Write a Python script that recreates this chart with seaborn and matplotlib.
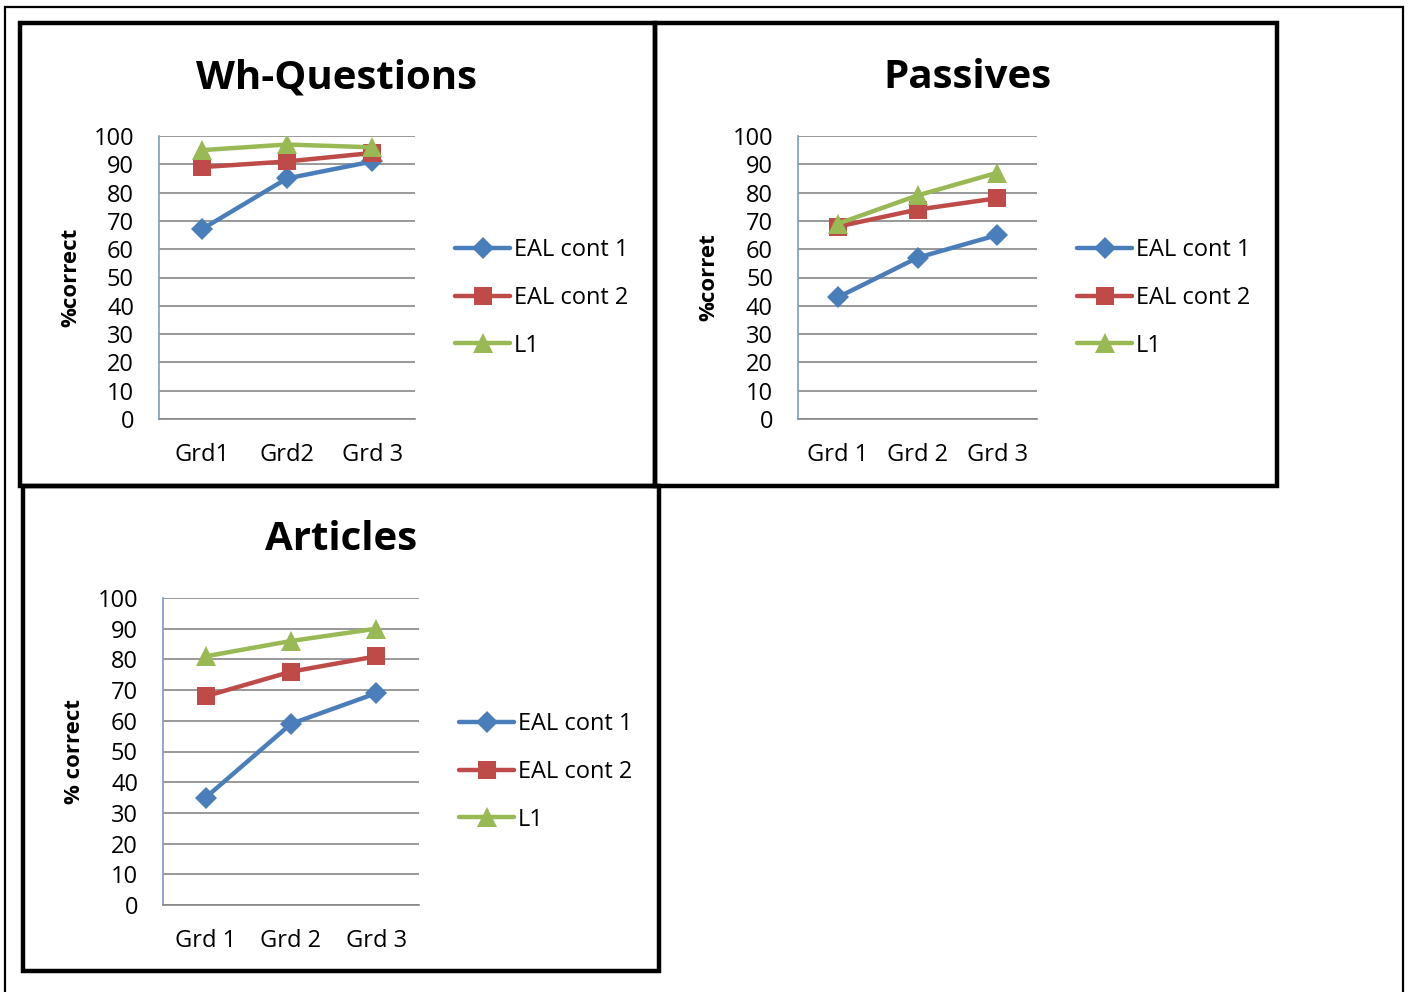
import matplotlib
matplotlib.use("Agg")
import matplotlib.pyplot as plt
from matplotlib.patches import Rectangle
import pandas as pd
import seaborn as sns

# ---- data ----
series = ["EAL cont 1", "EAL cont 2", "L1"]

wh_grades = ["Grd1", "Grd2", "Grd 3"]
wh_eal1 = [67, 85, 91]
wh_eal2 = [89, 91, 94]
wh_l1 = [95, 97, 96]

pas_grades = ["Grd 1", "Grd 2", "Grd 3"]
pas_eal1 = [43, 57, 65]
pas_eal2 = [68, 74, 78]
pas_l1 = [69, 79, 87]

art_grades = ["Grd 1", "Grd 2", "Grd 3"]
art_eal1 = [35, 59, 69]
art_eal2 = [68, 76, 81]
art_l1 = [81, 86, 90]

y_ticks = list(range(0, 101, 10))

# ---- style ----
sns.set_theme(style="white")
FONT = ["Open Sans", "DejaVu Sans"]
plt.rcParams["font.family"] = FONT
plt.rcParams["text.color"] = "black"
plt.rcParams["axes.labelcolor"] = "black"

palette = {"EAL cont 1": "#4A7EBB", "EAL cont 2": "#BE4B48", "L1": "#98B954"}
markers = {"EAL cont 1": "D", "EAL cont 2": "s", "L1": "^"}
msize = {"EAL cont 1": 11.5, "EAL cont 2": 13, "L1": 14.5}

TICK_FS = 17
W, H = 1408, 992
fig = plt.figure(figsize=(W / 100, H / 100), dpi=100)


def px_rect(x0, y0, x1, y1):
    """Figure-fraction rect from a pixel box (origin top-left)."""
    return [x0 / W, 1 - y1 / H, (x1 - x0) / W, (y1 - y0) / H]


def frame(x0, y0, x1, y1, lw):
    fig.patches.append(Rectangle((x0 / W, 1 - y1 / H), (x1 - x0) / W, (y1 - y0) / H,
                                 transform=fig.transFigure, fill=False,
                                 edgecolor="black", linewidth=lw, zorder=10))


def panel(box, title, title_x, ylabel, grades, e1, e2, l1, ylab_x, legend_xy):
    x0, y0, x1, y1 = box
    w, h = x1 - x0, y1 - y0
    ax = fig.add_axes(px_rect(x0, y0, x1, y1))
    df = pd.DataFrame({
        "grade": list(range(3)) * 3,
        "value": list(e1) + list(e2) + list(l1),
        "series": [s for s in series for _ in range(3)],
    })
    sns.lineplot(data=df, x="grade", y="value", hue="series", style="series",
                 hue_order=series, style_order=series, palette=palette,
                 markers=markers, dashes=False, linewidth=3.2,
                 markeredgewidth=0, legend=False, ax=ax)
    for ln, s in zip(ax.lines, series):
        ln.set_markersize(msize[s])

    ax.set_xlim(-0.5, 2.5)
    ax.set_ylim(0, 100)
    ax.set_xticks(range(3))
    ax.set_xticklabels(grades)
    ax.set_yticks(y_ticks)
    ax.tick_params(axis="both", length=0, labelsize=TICK_FS, colors="black")
    ax.tick_params(axis="y", pad=18)
    ax.tick_params(axis="x", pad=17)
    ax.set_xlabel("")
    ax.yaxis.grid(True, color="#878787", linewidth=1.2)
    ax.set_axisbelow(True)
    for s in ("top", "right"):
        ax.spines[s].set_visible(False)
    ax.spines["left"].set_color("#7A9CC8")
    ax.spines["left"].set_linewidth(1.2)
    ax.spines["bottom"].set_color("#878787")
    ax.spines["bottom"].set_linewidth(1.2)

    ax.text(title_x, 1 + 58 / h, title, transform=ax.transAxes,
            ha="center", va="center", fontsize=29, fontweight="bold",
            color="black")
    ax.set_ylabel(ylabel, fontsize=16, fontweight="bold", va="center",
                  color="black")
    ax.yaxis.set_label_coords((ylab_x - x0) / w, 0.5)

    lx, ly = legend_xy
    ax.legend(ax.lines[:3], series, loc="center left",
              bbox_to_anchor=(lx / W, 1 - ly / H),
              bbox_transform=fig.transFigure, frameon=False,
              fontsize=TICK_FS, handlelength=2.33, handletextpad=0.17,
              labelspacing=1.0, borderpad=0, borderaxespad=0)
    return ax


panel((159, 136, 415, 419), "Wh-Questions", 0.695, "%correct", wh_grades,
      wh_eal1, wh_eal2, wh_l1, 71, (455, 298))
panel((798, 136, 1037, 419), "Passives", 0.707, "%corret", pas_grades,
      pas_eal1, pas_eal2, pas_l1, 709, (1077, 298))
panel((163, 598, 419, 905), "Articles", 0.695, "% correct", art_grades,
      art_eal1, art_eal2, art_l1, 75, (459, 772))

# page border and chart frames
frame(5, 7, 1403, 1000, 1.6)
frame(20, 23, 655, 486, 3.2)
frame(655, 23, 1277, 486, 3.2)
frame(23, 486, 659, 971, 3.2)

fig.savefig("out.png", dpi=100)
